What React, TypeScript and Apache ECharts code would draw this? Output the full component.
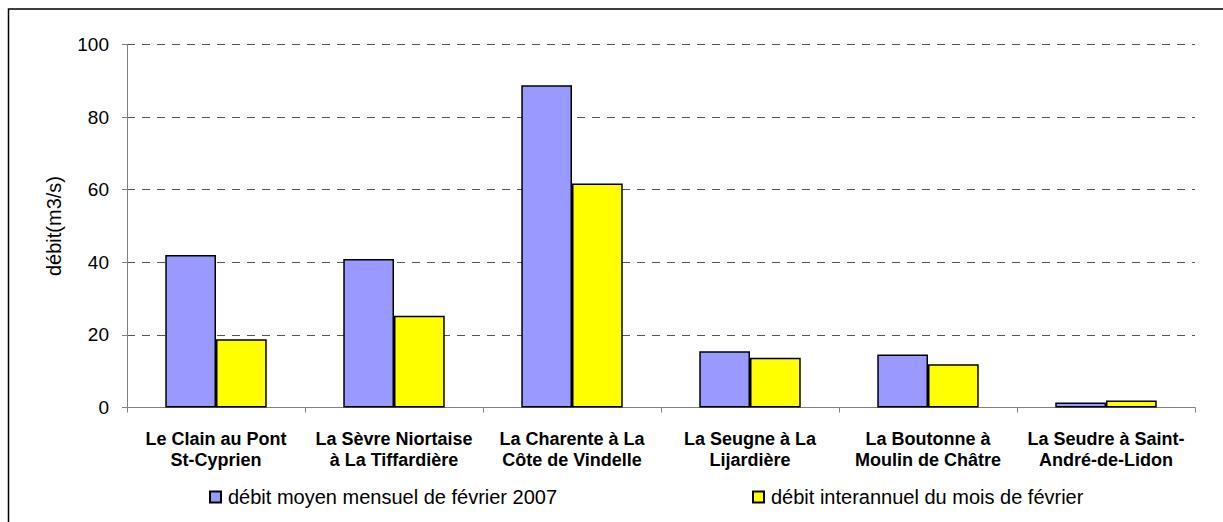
import React, { useEffect, useRef } from "react";
import * as echarts from "echarts";

const categories = [
  "Le Clain au Pont\nSt-Cyprien",
  "La Sèvre Niortaise\nà La Tiffardière",
  "La Charente à La\nCôte de Vindelle",
  "La Seugne à La\nLijardière",
  "La Boutonne à\nMoulin de Châtre",
  "La Seudre à Saint-\nAndré-de-Lidon",
];
const seriesNames = [
  "débit moyen mensuel de février 2007",
  "débit interannuel du mois de février",
];
const debitMoyen2007 = [42.0, 40.9, 88.8, 15.5, 14.6, 1.4];
const debitInterannuel = [18.8, 25.3, 61.7, 13.7, 11.9, 1.9];
const yAxisName = "débit(m3/s)";

export default function App() {
  const ref = useRef<HTMLDivElement>(null);
  useEffect(() => {
    if (!ref.current) return;
    const chart = echarts.init(ref.current, undefined, { renderer: "svg" });
    const font = "'Liberation Sans', Arial, sans-serif";
    chart.setOption({
      animation: false,
      backgroundColor: "#ffffff",
      textStyle: { fontFamily: font },
      graphic: [
        {
          type: "rect",
          shape: { x: 8.5, y: 9, width: 1300, height: 600 },
          style: { fill: "none", stroke: "#000", lineWidth: 1.5 },
          silent: true,
        },
      ],
      grid: { left: 127, right: 28, top: 44.5, bottom: 114.5, containLabel: false },
      legend: [
        {
          data: [seriesNames[0]],
          left: 204,
          top: 482,
          icon: "rect",
          itemWidth: 11,
          itemHeight: 11,
          itemGap: 4,
          textStyle: { fontSize: 20, color: "#000", fontFamily: font, padding: [0, 0, 0, 2] },
        },
        {
          data: [seriesNames[1]],
          left: 747,
          top: 482,
          icon: "rect",
          itemWidth: 11,
          itemHeight: 11,
          itemGap: 4,
          textStyle: { fontSize: 20, color: "#000", fontFamily: font, padding: [0, 0, 0, 2] },
        },
      ],
      xAxis: {
        type: "category",
        data: categories,
        axisLine: { lineStyle: { color: "#808080", width: 1 } },
        axisTick: { show: true, length: 5, lineStyle: { color: "#808080" } },
        axisLabel: {
          color: "#000",
          fontSize: 18,
          fontWeight: "bold",
          fontFamily: font,
          lineHeight: 21,
          margin: 21,
          interval: 0,
        },
      },
      yAxis: {
        type: "value",
        min: 0,
        max: 100,
        interval: 20,
        name: yAxisName,
        nameLocation: "middle",
        nameGap: 63,
        nameTextStyle: { fontSize: 20, color: "#000", fontFamily: font },
        axisLine: { show: true, lineStyle: { color: "#808080", width: 1 } },
        axisTick: { show: true, length: 5, lineStyle: { color: "#808080" } },
        axisLabel: { color: "#000", fontSize: 19, margin: 18, fontFamily: font },
        splitLine: {
          show: true,
          lineStyle: { color: "#555", type: [8, 7], width: 1 },
        },
      },
      series: [
        {
          name: seriesNames[0],
          type: "bar",
          data: debitMoyen2007,
          barGap: "0%",
          barCategoryGap: "43%",
          itemStyle: { color: "#9999FF", borderColor: "#000", borderWidth: 1.5 },
        },
        {
          name: seriesNames[1],
          type: "bar",
          data: debitInterannuel,
          barGap: "0%",
          barCategoryGap: "43%",
          itemStyle: { color: "#FFFF00", borderColor: "#000", borderWidth: 1.5 },
        },
      ],
    });
    return () => chart.dispose();
  }, []);
  return (
    <div
      ref={ref}
      style={{ position: "absolute", left: 0, top: 0, width: 1223, height: 522 }}
    />
  );
}
